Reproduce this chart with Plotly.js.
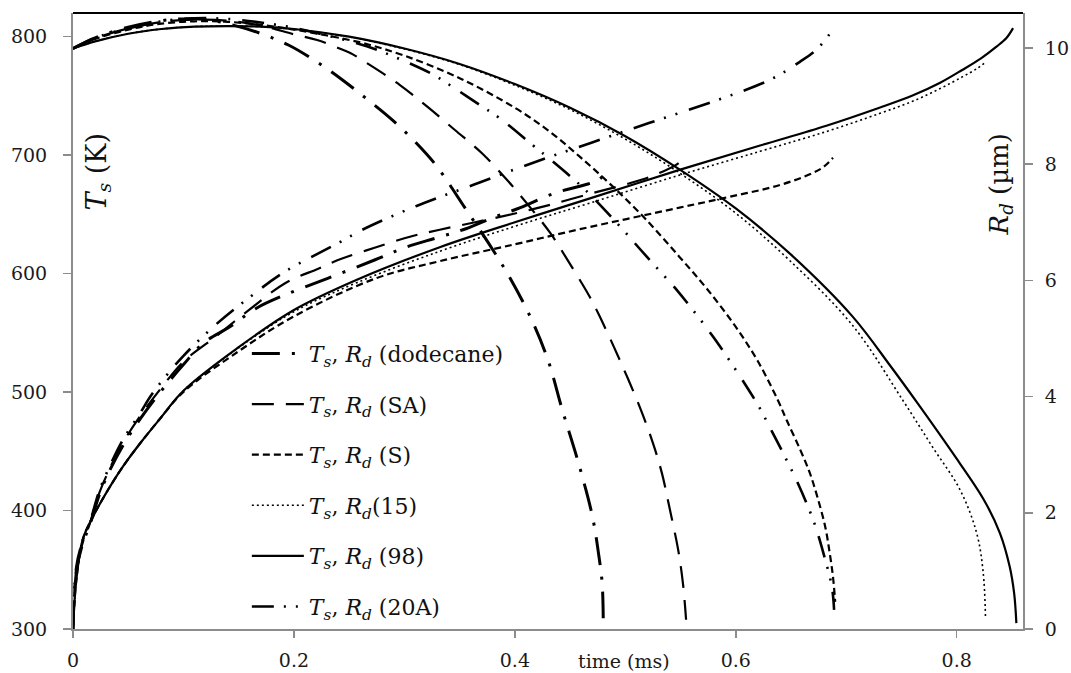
<!DOCTYPE html>
<html>
<head>
<meta charset="utf-8">
<script src="https://cdn.plot.ly/plotly-3.0.1.min.js"></script>
<style>
  html, body { margin: 0; padding: 0; background: #ffffff; }
  #chart { width: 1071px; height: 673px; }
</style>
</head>
<body>
<div id="chart"></div>
<script>
// ---------- Tick labels ----------
const xTicks = [0, 0.2, 0.4, 0.6, 0.8];
const yTicks = [300, 400, 500, 600, 700, 800];
const y2Ticks = [0, 2, 4, 6, 8, 10];

// ---------- Series names ----------
const seriesNames = ['(dodecane)', '(SA)', '(S)', '(15)', '(98)', '(20A)'];

// ---------- Surface temperature Ts (K) vs time (ms) ----------
const tTsDodecane = [0, 0.02, 0.05, 0.08, 0.1, 0.12, 0.14, 0.169, 0.195, 0.221, 0.244, 0.267, 0.289, 0.31, 0.329, 0.355, 0.379, 0.394, 0.414, 0.43, 0.443, 0.457, 0.47, 0.476, 0.479, 0.48];
const TsDodecane  = [790, 799, 808, 813.5, 815, 814.5, 811, 803, 793, 778.6, 763.5, 746.6, 729.7, 711, 691, 655.3, 621.6, 598.9, 563.5, 527, 484.8, 442, 396, 362, 338.9, 309];

const tTsSA = [0, 0.02, 0.05, 0.085, 0.115, 0.14, 0.17, 0.2, 0.221, 0.24, 0.251, 0.269, 0.296, 0.321, 0.346, 0.37, 0.393, 0.412, 0.432, 0.45, 0.468, 0.477, 0.495, 0.513, 0.525, 0.533, 0.54, 0.548, 0.552, 0.554, 0.555];
const TsSA  = [790, 798.5, 807, 813, 814.5, 813.5, 809.5, 802, 797.2, 790.5, 786.2, 776, 759.2, 740.7, 721, 701.8, 679, 658, 634.3, 608, 580, 563.5, 527, 487.5, 457, 432, 402.3, 366, 339.8, 320, 307.8];

const tTsS = [0, 0.02, 0.05, 0.08, 0.11, 0.14, 0.17, 0.2, 0.23, 0.262, 0.3, 0.35, 0.4, 0.43, 0.459, 0.489, 0.519, 0.549, 0.574, 0.6, 0.62, 0.638, 0.646, 0.658, 0.667, 0.674, 0.681, 0.685, 0.688, 0.69];
const TsS  = [790, 798, 806, 811, 813, 812.5, 810, 806, 801, 794.7, 784, 765, 740, 721, 698.5, 673.2, 645.4, 614.1, 587, 555, 526, 493.3, 476.4, 452, 431.7, 411, 386.1, 364.2, 343.9, 322.9];

const tTs15 = [0, 0.02, 0.05, 0.08, 0.11, 0.14, 0.17, 0.2, 0.25, 0.3, 0.35, 0.4, 0.45, 0.5, 0.549, 0.6, 0.65, 0.706, 0.751, 0.778, 0.803, 0.818, 0.824, 0.826];
const Ts15  = [790, 796, 802.5, 806.5, 808.5, 809, 808.5, 806.3, 799.8, 789.6, 776.5, 759, 738.5, 713.5, 685, 651, 610, 556, 493.4, 453.8, 417.5, 381.2, 347.4, 311];

const tTs98 = [0, 0.02, 0.05, 0.08, 0.11, 0.14, 0.17, 0.2, 0.25, 0.3, 0.35, 0.4, 0.45, 0.5, 0.549, 0.6, 0.65, 0.706, 0.74, 0.765, 0.796, 0.824, 0.839, 0.848, 0.852, 0.854];
const Ts98  = [790, 796, 802.5, 806.5, 808.5, 809, 808.5, 806.5, 800, 790, 777, 760, 740, 716, 688, 655, 616, 563.5, 522, 490, 449, 410, 381.2, 352.5, 330, 305];

const tTs20A = [0, 0.02, 0.05, 0.08, 0.11, 0.14, 0.17, 0.2, 0.23, 0.266, 0.296, 0.325, 0.341, 0.371, 0.386, 0.416, 0.432, 0.459, 0.471, 0.498, 0.513, 0.536, 0.545, 0.58, 0.62, 0.631, 0.642, 0.656, 0.671, 0.681, 0.687, 0.689];
const Ts20A  = [790, 799, 807, 813, 815.5, 815, 812, 807.5, 801, 792, 781, 768.5, 759.2, 740.7, 731.4, 708.6, 696.5, 674.9, 663.9, 636.9, 621, 597.2, 587.9, 546, 489.2, 469.8, 450, 423.4, 389.6, 358.4, 335.6, 316.2];

// ---------- Droplet radius Rd (µm) vs time (ms) ----------
const tRdDodecane = [0, 0.003, 0.009, 0.015, 0.024, 0.033, 0.045, 0.061, 0.08, 0.1, 0.118, 0.142, 0.166, 0.192, 0.23, 0.273, 0.3, 0.329, 0.353, 0.379, 0.405, 0.436, 0.463, 0.475, 0.48];
const RdDodecane  = [0, 1.0, 1.48, 1.78, 2.32, 2.72, 3.15, 3.62, 4.1, 4.55, 4.92, 5.2, 5.52, 5.75, 6.03, 6.35, 6.56, 6.73, 6.87, 7.07, 7.25, 7.5, 7.64, 7.72, 7.8];

const tRdSA = [0, 0.003, 0.009, 0.015, 0.024, 0.033, 0.045, 0.061, 0.08, 0.1, 0.127, 0.16, 0.192, 0.222, 0.243, 0.273, 0.305, 0.332, 0.364, 0.4, 0.432, 0.47, 0.5, 0.525, 0.547, 0.553];
const RdSA  = [0, 1.02, 1.5, 1.8, 2.35, 2.75, 3.2, 3.67, 4.15, 4.6, 5.0, 5.5, 5.95, 6.2, 6.37, 6.56, 6.75, 6.87, 7.0, 7.15, 7.3, 7.5, 7.65, 7.8, 8.0, 8.1];

const tRdS = [0, 0.003, 0.009, 0.018, 0.03, 0.045, 0.061, 0.078, 0.1, 0.15, 0.2, 0.275, 0.332, 0.4, 0.459, 0.549, 0.595, 0.64, 0.67, 0.68, 0.688];
const RdS  = [0, 0.84, 1.55, 1.93, 2.34, 2.79, 3.2, 3.6, 4.08, 4.78, 5.38, 6.04, 6.33, 6.62, 6.88, 7.25, 7.44, 7.64, 7.85, 7.96, 8.11];

const tRd15 = [0, 0.003, 0.009, 0.018, 0.03, 0.045, 0.061, 0.078, 0.1, 0.15, 0.2, 0.257, 0.332, 0.4, 0.468, 0.549, 0.622, 0.682, 0.73, 0.76, 0.785, 0.805, 0.818, 0.826];
const Rd15  = [0, 0.84, 1.55, 1.93, 2.34, 2.79, 3.2, 3.6, 4.1, 4.84, 5.46, 5.96, 6.5, 6.93, 7.33, 7.81, 8.22, 8.56, 8.87, 9.08, 9.3, 9.5, 9.64, 9.75];

const tRd98 = [0, 0.003, 0.009, 0.018, 0.03, 0.045, 0.061, 0.078, 0.1, 0.15, 0.2, 0.257, 0.332, 0.4, 0.468, 0.549, 0.622, 0.682, 0.73, 0.76, 0.785, 0.805, 0.822, 0.836, 0.845, 0.851];
const Rd98  = [0, 0.84, 1.55, 1.93, 2.34, 2.79, 3.2, 3.6, 4.1, 4.85, 5.49, 6.01, 6.57, 7.0, 7.41, 7.9, 8.32, 8.66, 8.97, 9.18, 9.4, 9.62, 9.82, 10.02, 10.17, 10.34];

const tRd20A = [0, 0.003, 0.009, 0.015, 0.024, 0.033, 0.045, 0.061, 0.07, 0.084, 0.1, 0.127, 0.16, 0.192, 0.242, 0.262, 0.311, 0.362, 0.416, 0.468, 0.522, 0.583, 0.631, 0.658, 0.672, 0.681, 0.687];
const Rd20A  = [0, 1.07, 1.53, 1.82, 2.39, 2.79, 3.25, 3.72, 4.0, 4.35, 4.7, 5.2, 5.71, 6.15, 6.66, 6.87, 7.28, 7.64, 8.02, 8.36, 8.71, 9.1, 9.45, 9.76, 9.95, 10.14, 10.29];

// ---------- Styles ----------
const styles = [
  { width: 3.0, dash: '28px,12px,3px,12px' },            // dodecane
  { width: 2.2, dash: '22px,12px' },                      // SA
  { width: 2.2, dash: '7px,4px' },                        // S
  { width: 1.6, dash: '2px,3px' },                        // 15
  { width: 2.2, dash: 'solid' },                          // 98
  { width: 2.6, dash: '22px,10px,2px,10px,2px,12px' }     // 20A
];

const tsData = [
  [tTsDodecane, TsDodecane], [tTsSA, TsSA], [tTsS, TsS],
  [tTs15, Ts15], [tTs98, Ts98], [tTs20A, Ts20A]
];
const rdData = [
  [tRdDodecane, RdDodecane], [tRdSA, RdSA], [tRdS, RdS],
  [tRd15, Rd15], [tRd98, Rd98], [tRd20A, Rd20A]
];

const label = n => '<i>T</i><sub><i>s</i></sub>, <i>R</i><sub><i>d</i></sub>' + (n === '(15)' ? '' : ' ') + n;

const traces = [];
seriesNames.forEach((n, i) => {
  const ln = { color: '#000000', width: styles[i].width, dash: styles[i].dash, shape: 'spline', smoothing: 1.0 };
  traces.push({
    x: tsData[i][0], y: tsData[i][1], type: 'scatter', mode: 'lines',
    name: label(n), legendgroup: 'g' + i, showlegend: true,
    line: ln, xaxis: 'x', yaxis: 'y', hoverinfo: 'skip'
  });
  traces.push({
    x: rdData[i][0], y: rdData[i][1], type: 'scatter', mode: 'lines',
    name: label(n), legendgroup: 'g' + i, showlegend: false,
    line: ln, xaxis: 'x', yaxis: 'y2', hoverinfo: 'skip'
  });
});

const FONT = 'DejaVu Serif, Liberation Serif, serif';
const axisGray = '#8c8c8c';
const tickFont = { family: FONT, size: 19, color: '#1a1a1a' };

const layout = {
  width: 1071, height: 673,
  margin: { l: 73, r: 48, t: 13, b: 44, pad: 0 },
  paper_bgcolor: '#ffffff', plot_bgcolor: '#ffffff',
  showlegend: true,
  hovermode: false,
  legend: {
    x: 0.183, y: 0.481, xanchor: 'left', yanchor: 'top',
    bgcolor: 'rgba(0,0,0,0)', borderwidth: 0,
    font: { family: FONT, size: 22, color: '#111111' },
    traceorder: 'grouped', tracegroupgap: 19, itemwidth: 52
  },
  xaxis: {
    range: [0, 0.86], tickvals: xTicks, ticktext: xTicks.map(String),
    showgrid: false, zeroline: false,
    showline: true, linecolor: axisGray, linewidth: 2,
    ticks: 'outside', ticklen: 7, tickwidth: 1.5, tickcolor: axisGray,
    tickfont: tickFont, ticklabelstandoff: 6
  },
  yaxis: {
    range: [300, 820], tickvals: yTicks, ticktext: yTicks.map(String),
    showgrid: false, zeroline: false,
    showline: true, linecolor: axisGray, linewidth: 2,
    ticks: 'outside', ticklen: 8, tickwidth: 1.5, tickcolor: axisGray,
    tickfont: tickFont, ticklabelstandoff: 12
  },
  yaxis2: {
    range: [0, 10.6], tickvals: y2Ticks, ticktext: y2Ticks.map(String),
    overlaying: 'y', side: 'right',
    showgrid: false, zeroline: false,
    showline: true, linecolor: axisGray, linewidth: 2,
    ticks: 'outside', ticklen: 8, tickwidth: 1.5, tickcolor: axisGray,
    tickfont: tickFont, ticklabelstandoff: 8
  },
  shapes: [
    { type: 'line', xref: 'paper', yref: 'paper', x0: 0, x1: 1, y0: 1, y1: 1,
      line: { color: '#000000', width: 2 } }
  ],
  annotations: [
    { text: '<i>T</i><sub><i>s</i></sub> (K)', xref: 'paper', yref: 'paper',
      x: 0.027, y: 0.742, xanchor: 'center', yanchor: 'middle', textangle: -90,
      showarrow: false, font: { family: FONT, size: 27, color: '#111111' } },
    { text: '<i>R</i><sub><i>d</i></sub> (µm)', xref: 'paper', yref: 'paper',
      x: 0.976, y: 0.722, xanchor: 'center', yanchor: 'middle', textangle: -90,
      showarrow: false, font: { family: FONT, size: 26, color: '#111111' } },
    { text: 'time (ms)', xref: 'paper', yref: 'paper',
      x: 0.58, y: -0.052, xanchor: 'center', yanchor: 'middle',
      showarrow: false, font: { family: FONT, size: 19, color: '#1a1a1a' } }
  ]
};

Plotly.newPlot('chart', traces, layout, { staticPlot: true, displayModeBar: false });
</script>
</body>
</html>
